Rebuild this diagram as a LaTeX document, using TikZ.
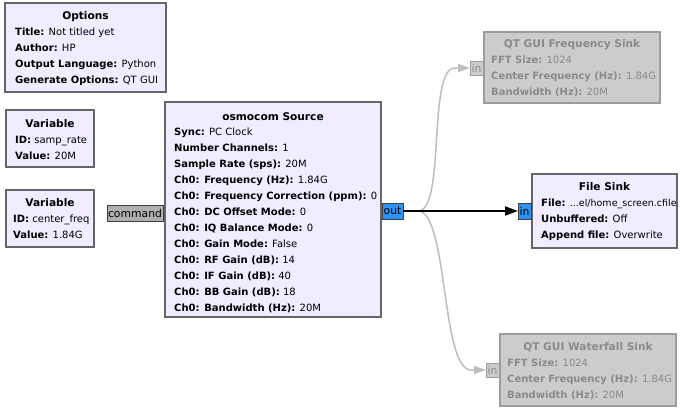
\documentclass[tikz,border=0pt]{standalone}
\usepackage{fontspec}
\setmainfont{DejaVu Sans}
\usepackage{xcolor}
\usetikzlibrary{positioning, calc, arrows.meta}

\definecolor{blockfill}{HTML}{F1ECFF}
\definecolor{blockedge}{HTML}{666666}
\definecolor{offfill}{HTML}{CCCCCC}
\definecolor{offedge}{HTML}{9C9C9C}
\definecolor{offtext}{HTML}{8A8A8A}
\definecolor{streamport}{HTML}{2F93F6}
\definecolor{msgport}{HTML}{B0B0B0}
\definecolor{offwire}{HTML}{BDBDBD}

\begin{document}
\begin{tikzpicture}[x=1pt, y=-1pt, font=\fontsize{10}{12}\selectfont,
    block/.style={rectangle, draw=blockedge, fill=blockfill, line width=2pt, inner sep=0pt, outer sep=0pt, anchor=north west},
    offblock/.style={block, draw=offedge, fill=offfill},
    title/.style={font=\fontsize{10.6}{12}\selectfont\bfseries, anchor=base, inner sep=0pt},
    row/.style={anchor=base west, inner sep=0pt},
    port/.style={rectangle, draw=black!75, line width=0.6pt, inner sep=0pt, outer sep=0pt, minimum height=16pt, anchor=north west, font=\fontsize{10.8}{12}\selectfont},
    offport/.style={port, draw=offedge, fill=offfill, text=offtext, minimum height=14pt},
    wire/.style={line width=2pt, -{Triangle[length=13pt, width=9pt]}},
    offwire/.style={draw=offwire, line width=1.5pt, -{Triangle[length=12pt, width=8pt]}}]
    \useasboundingbox (0,0) rectangle (680,410);

    % blocks
    \node[block, minimum width=161pt, minimum height=89pt] (options) at (5, 3) {};
    \node[title] at ($(options.north)+(0, 16)$) {Options};
    \foreach \k/\v [count=\i] in {Title/Not titled yet, Author/HP, Output Language/Python, Generate Options/QT GUI}
        \node[row] at ($(options.north west)+(10, {16+16*\i})$) {\textbf{\k:} \v};

    \node[block, minimum width=88pt, minimum height=57pt] (samprate) at (6, 110) {};
    \node[title] at ($(samprate.north)+(0, 17)$) {Variable};
    \foreach \k/\v [count=\i] in {ID/samp\_rate, Value/20M}
        \node[row] at ($(samprate.north west)+(9, {17+16*\i})$) {\textbf{\k:} \v};

    \node[block, minimum width=88pt, minimum height=57pt] (centerfreq) at (6, 190) {};
    \node[title] at ($(centerfreq.north)+(0, 16)$) {Variable};
    \foreach \k/\v [count=\i] in {ID/center\_freq, Value/1.84G}
        \node[row] at ($(centerfreq.north west)+(7, {16+16*\i})$) {\textbf{\k:} \v};

    \node[block, minimum width=216pt, minimum height=215pt] (osmocom) at (165, 102) {};
    \node[title] at ($(osmocom.north)+(0, 18)$) {osmocom Source};
    \foreach \k/\v [count=\i] in {Sync/PC Clock, Number Channels/1, Sample Rate (sps)/20M, Ch0: Frequency (Hz)/1.84G,
            Ch0: Frequency Correction (ppm)/0, Ch0: DC Offset Mode/0, Ch0: IQ Balance Mode/0, Ch0: Gain Mode/False,
            Ch0: RF Gain (dB)/14, Ch0: IF Gain (dB)/40, Ch0: BB Gain (dB)/18, Ch0: Bandwidth (Hz)/20M}
        \node[row] at ($(osmocom.north west)+(9, {17+16*\i})$) {\textbf{\k:} \v};

    \node[offblock, minimum width=176pt, minimum height=71pt] (freqsink) at (484, 32) {};
    \node[title, text=offtext] at ($(freqsink.north)+(0, 15)$) {QT GUI Frequency Sink};
    \foreach \k/\v [count=\i] in {FFT Size/1024, Center Frequency (Hz)/1.84G, Bandwidth (Hz)/20M}
        \node[row, text=offtext] at ($(freqsink.north west)+(7, {15+16*\i})$) {\textbf{\k:} \v};

    \node[block, minimum width=145pt, minimum height=74pt] (filesink) at (532, 174) {};
    \node[title] at ($(filesink.north)+(0, 16)$) {File Sink};
    \foreach \k/\v [count=\i] in {File/{\fontsize{9.5}{12}\selectfont ...el/home\_screen.cfile}, Unbuffered/Off, Append file/Overwrite}
        \node[row] at ($(filesink.north west)+(9, {16+16*\i})$) {\textbf{\k:} \v};

    \node[offblock, minimum width=176pt, minimum height=72pt] (waterfall) at (500, 334) {};
    \node[title, text=offtext] at ($(waterfall.north)+(0, 16)$) {QT GUI Waterfall Sink};
    \foreach \k/\v [count=\i] in {FFT Size/1024, Center Frequency (Hz)/1.84G, Bandwidth (Hz)/20M}
        \node[row, text=offtext] at ($(waterfall.north west)+(7, {16+16*\i})$) {\textbf{\k:} \v};

    % ports
    \node[port, fill=msgport, minimum width=56pt] (command) at (107, 205) {command};
    \node[port, fill=streamport, minimum width=21pt] (out) at (382, 203) {out};
    \node[port, fill=streamport, minimum width=13pt] (filein) at (518, 203) {in};
    \node[offport, minimum width=13pt] (freqin) at (470, 61) {in};
    \node[offport, minimum width=13pt] (waterin) at (486, 363) {in};

    % connections
    \draw[offwire] (out.east) -- ++(15, 0) .. controls +(28, 0) and +(-28, 0) .. ($(freqin.west)+(-15, 0)$) -- (freqin.west);
    \draw[offwire] (out.east) -- ++(15, 0) .. controls +(30, 0) and +(-30, 0) .. ($(waterin.west)+(-15, 0)$) -- (waterin.west);
    \draw[wire] (out.east) -- (filein.west);
\end{tikzpicture}
\end{document}
